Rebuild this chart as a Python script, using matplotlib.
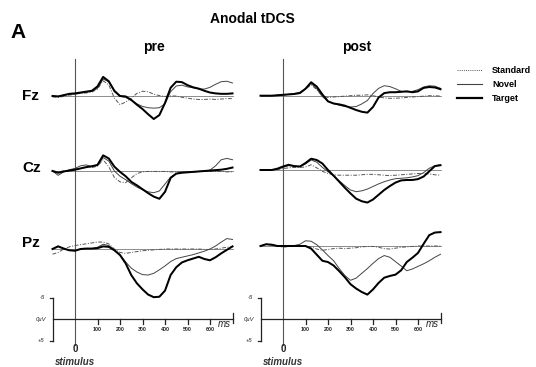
import numpy as np
import matplotlib
matplotlib.use("Agg")
import matplotlib.pyplot as plt
from matplotlib.lines import Line2D

plt.rcParams['font.family'] = ['Liberation Sans', 'DejaVu Sans']

# Time axis (ms relative to stimulus onset)
t_ms = np.arange(-100, 701, 25)

# Grand-average ERPs in µV (positive values are drawn downward)
fz_pre_standard = [0.2, 0.3, 0.1, -0.2, -0.4, -0.6, -0.7, -0.9, -1.6, -3.5, -2.6, 0.5, 2.0, 1.4, 0.5, -0.6, -1.1,
                   -1.0, -0.4, -0.1, 0.1, 0.0, 0.0, 0.3, 0.5, 0.7, 0.8, 0.8, 0.7, 0.8, 0.7, 0.6, 0.6]
fz_pre_novel = [0.0, 0.1, -0.2, -0.4, -0.5, -0.7, -0.9, -1.1, -1.8, -3.9, -3.3, -1.0, 0.1, 0.3, 1.0, 1.8, 2.4,
                2.7, 2.8, 2.7, 1.8, -1.0, -2.3, -2.5, -2.1, -1.9, -1.6, -1.6, -2.0, -2.7, -3.3, -3.4, -3.0]
fz_pre_target = [0.0, 0.1, -0.2, -0.5, -0.6, -0.8, -1.0, -1.2, -2.2, -4.4, -3.4, -1.2, 0.0, 0.1, 0.9, 2.0, 3.0,
                 4.2, 5.3, 4.4, 1.6, -1.9, -3.3, -3.2, -2.5, -2.0, -1.7, -1.2, -0.8, -0.6, -0.5, -0.5, -0.6]

fz_post_standard = [0.0, 0.0, 0.0, -0.1, -0.2, -0.3, -0.4, -0.7, -1.5, -2.5, -1.4, 0.1, 0.4, 0.3, 0.2, 0.1, 0.0,
                    -0.1, -0.1, -0.2, 0.0, 0.3, 0.5, 0.6, 0.6, 0.5, 0.4, 0.3, 0.2, 0.1, 0.0, 0.0, 0.1]
fz_post_novel = [0.0, 0.0, 0.0, -0.1, -0.2, -0.3, -0.5, -0.8, -1.6, -2.8, -1.6, 0.2, 1.3, 1.8, 2.2, 2.5, 2.6,
                 2.5, 1.9, 1.1, -0.5, -1.7, -2.3, -2.1, -1.6, -1.0, -0.9, -1.0, -1.4, -2.0, -2.3, -2.2, -1.7]
fz_post_target = [0.0, 0.0, 0.0, -0.1, -0.2, -0.3, -0.4, -0.6, -1.6, -3.1, -2.1, -0.3, 1.3, 1.8, 2.0, 2.3, 2.8,
                  3.3, 3.7, 3.9, 2.6, 0.4, -0.6, -0.8, -0.8, -0.9, -1.0, -0.8, -1.0, -1.8, -2.0, -1.9, -1.5]

cz_pre_standard = [0.0, 0.2, 0.0, -0.2, -0.4, -0.6, -0.8, -0.8, -1.1, -2.6, -1.0, 1.5, 2.5, 2.7, 1.6, 0.6, 0.2,
                   0.1, 0.1, 0.1, 0.1, 0.2, 0.2, 0.2, 0.2, 0.2, 0.1, 0.1, 0.1, 0.1, 0.1, 0.2, 0.2]
cz_pre_novel = [0.0, 1.0, 0.2, -0.3, -0.6, -1.2, -1.4, -1.0, -1.3, -3.1, -2.3, 0.0, 1.2, 2.0, 2.9, 3.7, 4.3,
                4.8, 5.0, 4.6, 3.0, 1.4, 0.6, 0.3, 0.2, 0.2, 0.1, 0.0, -0.2, -1.2, -2.6, -2.9, -2.6]
cz_pre_target = [0.0, 0.4, 0.1, -0.1, -0.3, -0.6, -0.9, -1.1, -1.4, -3.6, -2.9, -1.0, 0.2, 1.2, 2.5, 3.3, 4.2,
                 5.1, 5.9, 6.4, 4.8, 1.6, 0.6, 0.4, 0.3, 0.2, 0.1, 0.0, -0.1, -0.2, -0.3, -0.5, -0.8]

cz_post_standard = [0.0, 0.0, 0.0, -0.1, -0.3, -0.5, -0.6, -0.6, -0.7, -1.2, -0.5, 0.3, 0.8, 1.1, 1.2, 1.2, 1.2,
                    1.2, 1.1, 1.0, 1.0, 1.1, 1.2, 1.3, 1.2, 1.1, 1.0, 0.9, 0.8, 0.8, 0.9, 1.1, 1.2]
cz_post_novel = [0.0, 0.0, 0.0, -0.2, -0.6, -1.0, -0.9, -0.8, -1.4, -2.3, -1.8, -0.6, 0.4, 1.4, 2.5, 3.6, 4.6,
                 5.0, 4.8, 4.4, 3.8, 3.2, 2.7, 2.3, 2.0, 1.9, 1.8, 1.6, 1.3, 0.6, -0.4, -1.0, -1.2]
cz_post_target = [0.0, 0.0, 0.0, -0.3, -0.8, -1.2, -0.9, -0.8, -1.6, -2.6, -2.3, -1.5, 0.0, 1.3, 2.7, 4.1, 5.4,
                  6.6, 7.2, 7.5, 6.8, 5.7, 4.6, 3.7, 2.9, 2.4, 2.3, 2.3, 2.1, 1.5, 0.3, -0.9, -1.1]

pz_pre_standard = [1.2, 0.8, 0.0, -0.5, -0.8, -1.0, -1.2, -1.4, -1.6, -1.6, -1.2, 0.0, 0.8, 1.0, 0.8, 0.6, 0.4,
                   0.3, 0.2, 0.1, 0.0, 0.0, 0.0, 0.0, 0.0, 0.0, 0.0, 0.1, 0.1, 0.0, -0.2, -0.4, -0.5]
pz_pre_novel = [0.0, -0.7, 0.0, 0.3, 0.4, 0.0, -0.1, -0.1, -0.4, -1.1, -0.8, 0.2, 1.3, 3.0, 4.4, 5.3, 5.9,
                6.0, 5.6, 4.8, 3.9, 2.9, 2.2, 1.9, 1.6, 1.3, 0.9, 0.5, 0.0, -0.7, -1.6, -2.4, -2.2]
pz_pre_target = [0.0, -0.6, -0.1, 0.3, 0.4, 0.0, -0.1, -0.1, -0.2, -0.6, -0.5, 0.3, 1.4, 3.3, 6.0, 7.9, 9.3,
                 10.5, 11.1, 11.0, 9.6, 6.0, 4.2, 3.1, 2.6, 2.2, 1.8, 2.3, 2.6, 1.9, 1.0, 0.2, -0.6]

pz_post_standard = [0.0, -0.4, -0.2, 0.0, 0.3, 0.1, 0.0, 0.0, 0.0, 0.2, 0.7, 1.0, 0.8, 0.6, 0.5, 0.6, 0.5,
                    0.4, 0.2, 0.1, 0.1, 0.3, 0.6, 0.7, 0.5, 0.3, 0.2, 0.1, 0.0, 0.0, 0.0, 0.0, 0.0]
pz_post_novel = [0.0, -0.4, -0.3, 0.0, 0.0, 0.0, -0.1, -0.4, -1.2, -1.1, -0.3, 0.9, 2.2, 3.4, 5.2, 6.8, 7.9,
                 7.4, 6.3, 5.2, 4.0, 2.9, 2.2, 2.6, 3.6, 4.6, 5.7, 5.3, 4.7, 4.1, 3.4, 2.6, 1.9]
pz_post_target = [0.0, -0.4, -0.3, 0.0, 0.0, 0.0, 0.0, 0.0, 0.0, 0.6, 2.0, 3.4, 3.7, 4.5, 5.8, 7.2, 8.8,
                  9.8, 10.6, 11.2, 10.0, 8.5, 7.3, 6.9, 6.6, 5.6, 3.7, 2.7, 1.6, -0.5, -2.5, -3.1, -3.2]

electrodes = ["Fz", "Cz", "Pz"]
sessions = ["pre", "post"]
conditions = ["Standard", "Novel", "Target"]
scale_ticks = [100, 200, 300, 400, 500, 600]

waves = {
    "pre": {"Fz": (fz_pre_standard, fz_pre_novel, fz_pre_target),
            "Cz": (cz_pre_standard, cz_pre_novel, cz_pre_target),
            "Pz": (pz_pre_standard, pz_pre_novel, pz_pre_target)},
    "post": {"Fz": (fz_post_standard, fz_post_novel, fz_post_target),
             "Cz": (cz_post_standard, cz_post_novel, cz_post_target),
             "Pz": (pz_post_standard, pz_post_novel, pz_post_target)},
}

# ---- layout (pixels) ----
W, H = 536, 367
PX_MS = 0.225      # pixels per millisecond
PX_UV = 4.34       # pixels per microvolt

col_layout = {
    # axes left/right edge, stimulus x, row baselines (Fz, Cz, Pz), calibration zero line
    "pre": dict(x0=0, x1=258, zero=75, rows=(96, 171, 249), cal=319.3),
    "post": dict(x0=250, x1=536, zero=283, rows=(95.7, 170, 246), cal=319.3),
}

styles = {
    "Standard": dict(color="#555555", lw=0.7, ls=(0, (4, 1.6, 1, 1.6))),
    "Novel": dict(color="#444444", lw=0.7, ls="-"),
    "Target": dict(color="black", lw=1.45, ls="-"),
}

fig = plt.figure(figsize=(W / 100, H / 100), dpi=100)

for sess in sessions:
    L = col_layout[sess]
    top = L["rows"][0]
    ax = fig.add_axes([L["x0"] / W, 0, (L["x1"] - L["x0"]) / W, 1])
    ax.set_xlim((L["x0"] - L["zero"]) / PX_MS, (L["x1"] - L["zero"]) / PX_MS)
    ax.set_ylim((H - top) / PX_UV, -top / PX_UV)
    ax.axis("off")

    t = t_ms
    for e, row_px in zip(electrodes, L["rows"]):
        off = (row_px - top) / PX_UV
        ax.plot([t[0], t[-1]], [off, off], color="#7a7a7a", lw=0.6, zorder=1)
        for cond, vals in zip(conditions, waves[sess][e]):
            s = styles[cond]
            ax.plot(t, np.asarray(vals) + off, color=s["color"], lw=s["lw"],
                    ls=s["ls"], zorder=3 if cond == "Target" else 2,
                    solid_joinstyle="round")

    # stimulus onset line
    ax.plot([0, 0], [(59 - top) / PX_UV, (345 - top) / PX_UV], color="#555555", lw=0.8, zorder=1)

    # calibration bar and time scale
    cal = (L["cal"] - top) / PX_UV
    k = dict(color="#222222", lw=0.9)
    ax.plot([-100, -100], [cal - 5, cal + 5], **k)
    ax.plot([-113, -100], [cal - 5, cal - 5], **k)
    ax.plot([-113, -100], [cal + 5, cal + 5], **k)
    ax.plot([-100, 700], [cal, cal], **k)
    ax.plot([700, 700], [cal - 1.4, cal + 0.8], **k)
    for tk in scale_ticks:
        ax.plot([tk, tk], [cal, cal + 1.1], **k)
        ax.text(tk, cal + 2.4, str(tk), fontsize=3.8, fontweight="bold", ha="center",
                va="center", color="#222222")
    ax.text(662, cal + 1.7, "ms", fontsize=7, style="italic", ha="center", va="baseline",
            color="#222222")
    ax.text(-135, cal - 5, "-5", fontsize=4.2, style="italic", ha="right", va="center", color="#222222")
    ax.text(-126, cal, "0µV", fontsize=4.2, style="italic", ha="right", va="center", color="#222222")
    ax.text(-135, cal + 5, "+5", fontsize=4.2, style="italic", ha="right", va="center", color="#222222")
    ax.text(0, (349 - top) / PX_UV, "0", fontsize=7, fontweight="bold", ha="center", va="center",
            color="#222222")
    ax.text(0, (362 - top) / PX_UV, "stimulus", fontsize=7, fontweight="bold", style="italic",
            ha="center", va="center", color="#333333")

    fig.text((L["zero"] + 79 if sess == "pre" else L["zero"] + 74) / W, 1 - 47 / H, sess,
             fontsize=10, fontweight="bold", ha="center", va="center")

# electrode labels
for e, row_px in zip(electrodes, (96, 168, 243)):
    fig.text(22 / W, 1 - row_px / H, e, fontsize=11, fontweight="bold", ha="left", va="center")

fig.text(252 / W, 1 - 19 / H, "Anodal tDCS", fontsize=10, fontweight="bold", ha="center", va="center")
fig.text(10 / W, 1 - 33 / H, "A", fontsize=15, fontweight="bold", ha="left", va="center")

handles = [
    Line2D([], [], color="#555555", lw=0.7, ls=(0, (1, 1.2))),
    Line2D([], [], color="#444444", lw=0.8),
    Line2D([], [], color="black", lw=1.6),
]
fig.legend(handles, conditions, loc="upper left", bbox_to_anchor=(457 / W, 1 - 66 / H),
           frameon=False, prop=dict(size=6.5, weight="bold"), handlelength=2.8,
           handletextpad=1.1, labelspacing=0.55, borderpad=0, borderaxespad=0)

fig.savefig("out.png", dpi=100, facecolor="white")
